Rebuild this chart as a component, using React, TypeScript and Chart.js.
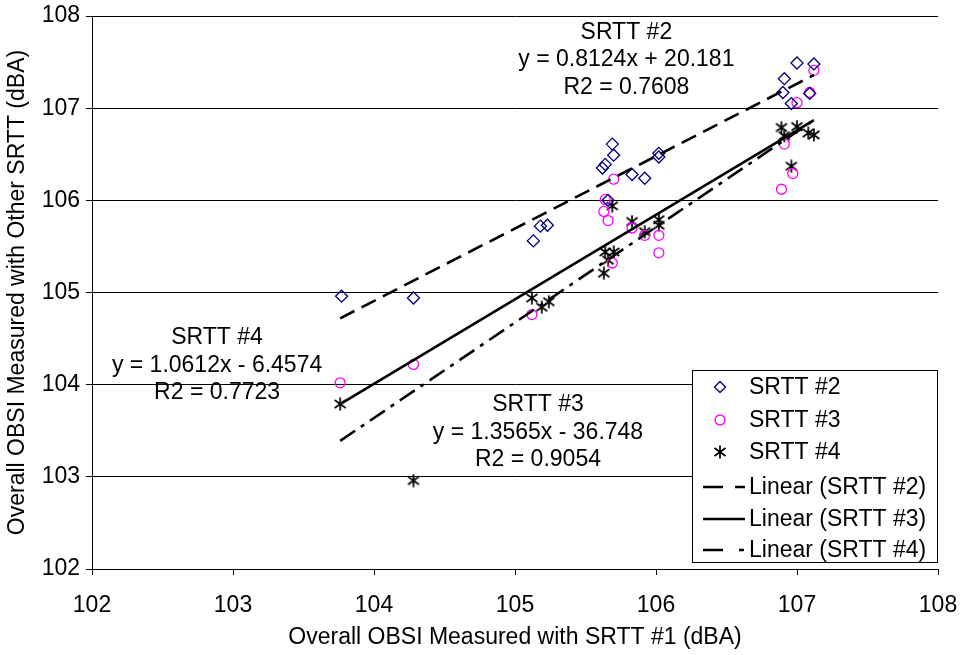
import React, { useEffect, useRef } from "react";
import { Chart, registerables } from "chart.js";

Chart.register(...registerables);

// ---- data ----
const srtt2X = [103.77, 104.28, 105.13, 105.18, 105.23, 105.62, 105.64, 105.69, 105.70, 105.66, 105.83, 105.92, 106.02, 106.02, 106.91, 106.90, 106.96, 107.00, 107.09, 107.12];
const srtt2Y = [104.96, 104.94, 105.56, 105.72, 105.73, 106.35, 106.39, 106.61, 106.49, 106.00, 106.28, 106.24, 106.51, 106.47, 107.32, 107.17, 107.05, 107.49, 107.16, 107.48];

const srtt3X = [103.76, 104.28, 105.12, 105.70, 105.64, 105.63, 105.66, 105.83, 105.92, 106.02, 106.02, 105.69, 107.12, 107.09, 107.00, 106.91, 106.97, 106.89];
const srtt3Y = [104.02, 104.22, 104.76, 106.23, 106.01, 105.88, 105.78, 105.70, 105.62, 105.62, 105.43, 105.32, 107.41, 107.17, 107.06, 106.61, 106.29, 106.12];

const srtt4X = [103.76, 104.28, 105.12, 105.19, 105.24, 105.69, 105.83, 105.92, 106.02, 106.02, 105.64, 105.70, 105.66, 105.63, 106.89, 107.00, 107.08, 107.12, 106.91, 106.96];
const srtt4Y = [103.79, 102.96, 104.94, 104.84, 104.90, 105.94, 105.77, 105.66, 105.79, 105.73, 105.44, 105.44, 105.35, 105.21, 106.79, 106.80, 106.73, 106.71, 106.70, 106.37];

const trend2X = [103.76, 107.12];
const trend2Y = [104.72, 107.36];
const trend3X = [103.76, 107.12];
const trend3Y = [103.79, 106.87];
const trend4X = [103.76, 107.12];
const trend4Y = [103.39, 106.87];

const axisMin = 102;
const axisMax = 108;

const seriesNames = ["SRTT #2", "SRTT #3", "SRTT #4", "Linear (SRTT #2)", "Linear (SRTT #3)", "Linear (SRTT #4)"];

const annotations = [
  { x: 105.79, y: 107.82, lines: ["SRTT #2", "y = 0.8124x + 20.181", "R2 = 0.7608"] },
  { x: 102.887, y: 104.507, lines: ["SRTT #4", "y = 1.0612x - 6.4574", "R2 = 0.7723"] },
  { x: 105.163, y: 103.78, lines: ["SRTT #3", "y = 1.3565x - 36.748", "R2 = 0.9054"] },
];

const FONT = "'Liberation Sans', Arial, sans-serif";
const FS = 23;

const pts = (xs: number[], ys: number[]) => xs.map((x, i) => ({ x, y: ys[i] }));

function makeStar(): HTMLCanvasElement {
  const c = document.createElement("canvas");
  c.width = 14;
  c.height = 14;
  const g = c.getContext("2d")!;
  g.strokeStyle = "#000";
  g.lineWidth = 1.7;
  g.beginPath();
  g.moveTo(7, 0.5);
  g.lineTo(7, 13.5);
  g.moveTo(1.5, 3);
  g.lineTo(12.5, 11);
  g.moveTo(1.5, 11);
  g.lineTo(12.5, 3);
  g.stroke();
  return c;
}

export default function App() {
  const ref = useRef<HTMLCanvasElement>(null);

  useEffect(() => {
    if (!ref.current) return;
    const star = makeStar();

    const overlay = {
      id: "overlay",
      afterDraw(chart: any) {
        const ctx = chart.ctx as CanvasRenderingContext2D;
        const xs = chart.scales.x;
        const ys = chart.scales.y;
        ctx.save();
        // annotations
        ctx.fillStyle = "#000";
        ctx.font = `${FS}px ${FONT}`;
        ctx.textAlign = "center";
        ctx.textBaseline = "middle";
        annotations.forEach((a) => {
          const px = xs.getPixelForValue(a.x);
          const py = ys.getPixelForValue(a.y);
          a.lines.forEach((t, i) => ctx.fillText(t, px, py + i * 27.5));
        });

        // legend box
        const L = 692, T = 370, R = 937, B = 562;
        ctx.fillStyle = "#fff";
        ctx.fillRect(L, T, R - L, B - T);
        ctx.strokeStyle = "#000";
        ctx.lineWidth = 1;
        ctx.strokeRect(L + 0.5, T + 0.5, R - L, B - T);
        const rows = [387, 420, 452, 487, 519, 550];
        const mx = 720;
        // diamond
        ctx.strokeStyle = "#000080";
        ctx.lineWidth = 1.3;
        ctx.beginPath();
        ctx.moveTo(mx, rows[0] - 5.5);
        ctx.lineTo(mx + 5.5, rows[0]);
        ctx.lineTo(mx, rows[0] + 5.5);
        ctx.lineTo(mx - 5.5, rows[0]);
        ctx.closePath();
        ctx.stroke();
        // circle
        ctx.strokeStyle = "#FF00FF";
        ctx.beginPath();
        ctx.arc(mx, rows[1], 5, 0, Math.PI * 2);
        ctx.stroke();
        // star
        ctx.drawImage(star, mx - 7, rows[2] - 7);
        // lines
        ctx.strokeStyle = "#000";
        ctx.lineWidth = 2.5;
        const dashes = [[20, 12], [], [20, 16, 5, 20]];
        for (let i = 0; i < 3; i++) {
          ctx.setLineDash(dashes[i]);
          ctx.beginPath();
          ctx.moveTo(703, rows[3 + i]);
          ctx.lineTo(745, rows[3 + i]);
          ctx.stroke();
        }
        ctx.setLineDash([]);
        ctx.fillStyle = "#000";
        ctx.textAlign = "left";
        ctx.font = `${FS}px ${FONT}`;
        seriesNames.forEach((n, i) => ctx.fillText(n, 749, rows[i] + 1));
        ctx.restore();
      },
    };

    const chart = new Chart(ref.current, {
      type: "scatter",
      data: {
        datasets: [
          {
            type: "line",
            label: seriesNames[3],
            data: pts(trend2X, trend2Y),
            borderColor: "#000",
            borderWidth: 2.6,
            borderDash: [16, 8],
            pointRadius: 0,
            fill: false,
          } as any,
          {
            type: "line",
            label: seriesNames[4],
            data: pts(trend3X, trend3Y),
            borderColor: "#000",
            borderWidth: 2.6,
            pointRadius: 0,
            fill: false,
          } as any,
          {
            type: "line",
            label: seriesNames[5],
            data: pts(trend4X, trend4Y),
            borderColor: "#000",
            borderWidth: 2.6,
            borderDash: [18, 7, 4, 7],
            pointRadius: 0,
            fill: false,
          } as any,
          {
            label: seriesNames[0],
            data: pts(srtt2X, srtt2Y),
            pointStyle: "rectRot",
            pointRadius: 6,
            pointBorderWidth: 1.3,
            borderColor: "#000080",
            backgroundColor: "rgba(0,0,0,0)",
          },
          {
            label: seriesNames[1],
            data: pts(srtt3X, srtt3Y),
            pointStyle: "circle",
            pointRadius: 5,
            pointBorderWidth: 1.3,
            borderColor: "#FF00FF",
            backgroundColor: "rgba(0,0,0,0)",
          },
          {
            label: seriesNames[2],
            data: pts(srtt4X, srtt4Y),
            pointStyle: star as any,
            pointRadius: 7,
            borderColor: "#000",
            backgroundColor: "#000",
          },
        ],
      },
      options: {
        responsive: false,
        animation: false,
        events: [],
        layout: { padding: { left: 0, top: 16, right: 25, bottom: 0 } },
        plugins: { legend: { display: false }, tooltip: { enabled: false } },
        scales: {
          x: {
            type: "linear",
            min: axisMin,
            max: axisMax,
            afterFit: (s: any) => {
              s.height = 86;
              s.paddingLeft = 0;
              s.paddingRight = 0;
            },
            ticks: { stepSize: 1, color: "#000", padding: 17, font: { family: FONT, size: FS } },
            grid: { drawOnChartArea: false, drawTicks: true, tickLength: 6, color: "#000" },
            border: { display: true, color: "#000", width: 1 },
            title: {
              display: true,
              text: "Overall OBSI Measured with SRTT #1 (dBA)",
              color: "#000",
              font: { family: FONT, size: FS },
              padding: { top: 0, bottom: 4 },
            },
          },
          y: {
            type: "linear",
            min: axisMin,
            max: axisMax,
            afterFit: (s: any) => {
              s.width = 92;
              s.paddingTop = 0;
              s.paddingBottom = 0;
            },
            ticks: { stepSize: 1, color: "#000", padding: 6, font: { family: FONT, size: FS } },
            grid: { drawTicks: true, tickLength: 6, color: "#000", lineWidth: 1 },
            border: { display: true, color: "#000", width: 1 },
            title: {
              display: true,
              text: "Overall OBSI Measured with Other SRTT (dBA)",
              color: "#000",
              font: { family: FONT, size: FS },
              padding: { top: 4, bottom: 0 },
            },
          },
        },
      },
      plugins: [overlay],
    } as any);

    return () => chart.destroy();
  }, []);

  return (
    <div style={{ position: "absolute", left: 0, top: 0, width: 963, height: 655, background: "#fff" }}>
      <canvas ref={ref} width={963} height={655} style={{ display: "block" }} />
    </div>
  );
}
